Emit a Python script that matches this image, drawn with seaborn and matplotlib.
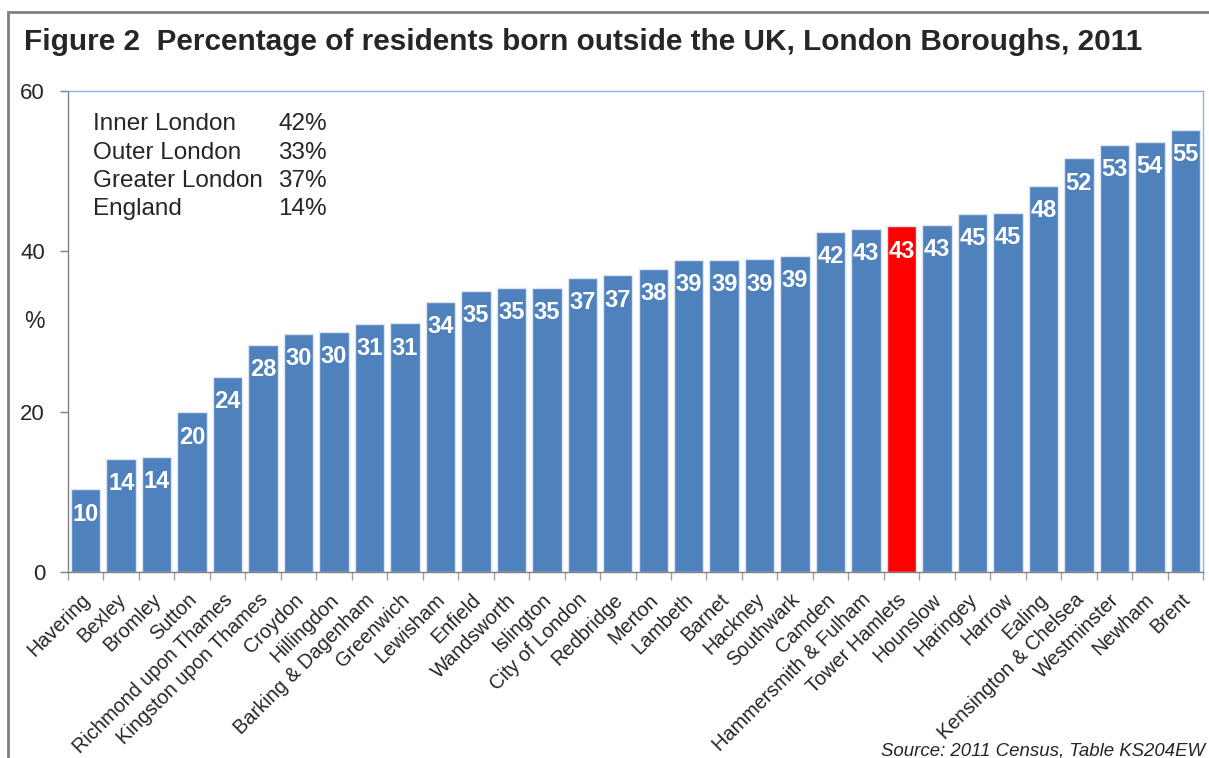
import matplotlib
matplotlib.use("Agg")
import matplotlib.pyplot as plt
from matplotlib.patches import Rectangle
from matplotlib.transforms import ScaledTranslation
import seaborn as sns
import pandas as pd

boroughs = [
    "Havering", "Bexley", "Bromley", "Sutton", "Richmond upon Thames",
    "Kingston upon Thames", "Croydon", "Hillingdon", "Barking & Dagenham",
    "Greenwich", "Lewisham", "Enfield", "Wandsworth", "Islington",
    "City of London", "Redbridge", "Merton", "Lambeth", "Barnet", "Hackney",
    "Southwark", "Camden", "Hammersmith & Fulham", "Tower Hamlets",
    "Hounslow", "Haringey", "Harrow", "Ealing", "Kensington & Chelsea",
    "Westminster", "Newham", "Brent",
]
pct_born_outside_uk = [
    10.3, 14.1, 14.4, 19.9, 24.3, 28.3, 29.7, 30.0, 30.9, 31.0,
    33.7, 35.1, 35.4, 35.4, 36.7, 37.0, 37.8, 38.9, 38.9, 39.0,
    39.4, 42.4, 42.8, 43.1, 43.3, 44.7, 44.8, 48.2, 51.6, 53.3,
    53.7, 55.1,
]
highlight = "Tower Hamlets"

summary_areas = ["Inner London", "Outer London", "Greater London", "England"]
summary_pct = [42, 33, 37, 14]

y_ticks = [0, 20, 40, 60]

title = "Figure 2  Percentage of residents born outside the UK, London Boroughs, 2011"
source = "Source: 2011 Census, Table KS204EW"

BLUE = "#4F81BD"
RED = "#FF0000"

sns.set_theme(style="white")
plt.rcParams["font.family"] = ["Liberation Sans", "DejaVu Sans"]

df = pd.DataFrame({"borough": boroughs, "pct": pct_born_outside_uk})
palette = {b: (RED if b == highlight else BLUE) for b in boroughs}

W, H = 1209, 758
fig = plt.figure(figsize=(W / 100, H / 100), dpi=100)
ax = fig.add_axes([68 / W, 1 - 572 / H, (1203 - 68) / W, (572 - 91) / H])

sns.barplot(data=df, x="borough", y="pct", hue="borough", palette=palette,
            dodge=False, legend=False, width=0.83, saturation=1,
            edgecolor="#DCE6F2", linewidth=1.0, ax=ax)

# value labels inside the top of each bar
for i, v in enumerate(pct_born_outside_uk):
    ax.annotate(f"{v:.0f}", xy=(i, v), xytext=(0, -9.5), textcoords="offset points",
                ha="center", va="top", color="white", fontsize=17,
                fontweight="bold")

ax.set_xlim(-0.5, len(boroughs) - 0.5)
ax.set_ylim(0, 60)
ax.set_yticks(y_ticks)
ax.set_yticklabels([str(t) for t in y_ticks], fontsize=16)
ax.tick_params(axis="y", length=6, width=1, color="#808080", pad=10.5, left=True)

ax.set_xticks(range(len(boroughs)))
ax.set_xticklabels(boroughs, rotation=45, ha="right", rotation_mode="anchor",
                   fontsize=14.3)
ax.tick_params(axis="x", which="major", length=0, pad=13)
shift = ScaledTranslation(-5 / 100, 0, fig.dpi_scale_trans)
for lab in ax.get_xticklabels():
    lab.set_transform(lab.get_transform() + shift)
ax.set_xticks([i - 0.5 for i in range(len(boroughs) + 1)], minor=True)
ax.tick_params(axis="x", which="minor", length=6, width=1, color="#A0A0A0",
               bottom=True)
ax.set_xlabel("")
ax.set_ylabel("")

for side in ("left", "bottom"):
    ax.spines[side].set_color("#808080")
    ax.spines[side].set_linewidth(1.0)
for side in ("top", "right"):
    ax.spines[side].set_color("#8EB4E3")
    ax.spines[side].set_linewidth(1.0)

fig.text(34 / W, 1 - 322 / H, "%", ha="center", va="center", fontsize=16.5)

# summary figures for wider areas
row_y = [124, 153, 181, 209]
for name, val, yp in zip(summary_areas, summary_pct, row_y):
    fig.text(93 / W, 1 - yp / H, name, ha="left", va="center", fontsize=17.5)
    fig.text(327 / W, 1 - yp / H, f"{val}%", ha="right", va="center",
             fontsize=17.5)

fig.text(24 / W, 1 - 42 / H, title, ha="left", va="center",
         fontsize=21.4, fontweight="bold")

fig.text(1205 / W, 1 - 743 / H, source, ha="right", va="top",
         fontsize=13.4, style="italic")

# outer frame
fig.patches.append(Rectangle((8 / W, -0.1), 1.2, 1 - 12 / H + 0.1,
                             transform=fig.transFigure, fill=False,
                             edgecolor="#808080", linewidth=2))

fig.savefig("out.png", dpi=100)
